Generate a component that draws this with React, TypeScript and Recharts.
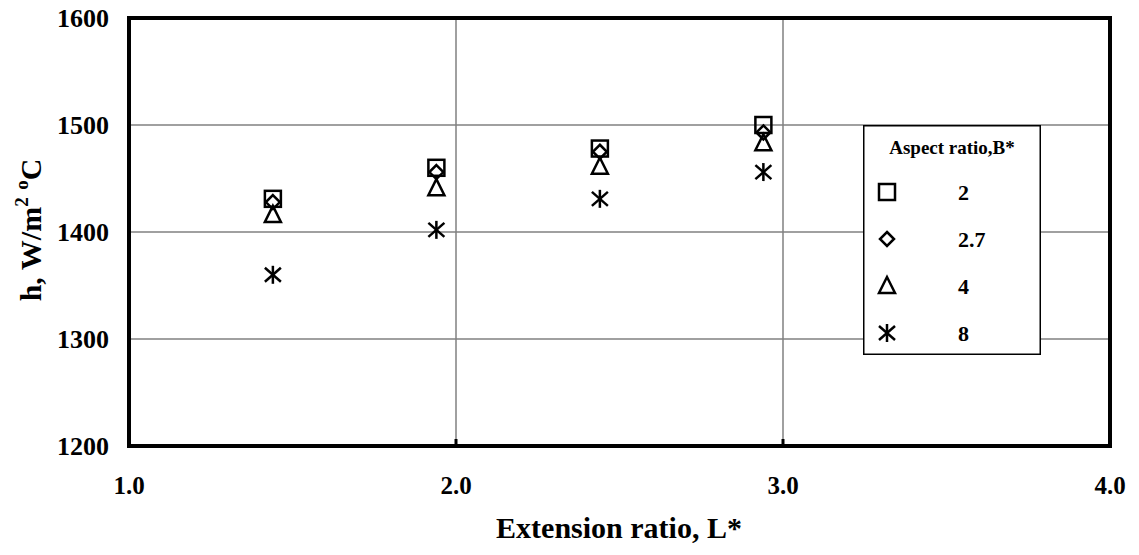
import { ScatterChart, Scatter, XAxis, YAxis, CartesianGrid, ReferenceArea, Legend } from 'recharts'

// extension ratio L* (x) and heat transfer coefficient h for each aspect ratio B*
const extensionRatio = [1.44, 1.94, 2.44, 2.94]
const hB2 = [1431, 1460, 1478, 1500]
const hB27 = [1428, 1456, 1475, 1493]
const hB4 = [1416, 1441, 1461, 1483]
const hB8 = [1360, 1402, 1431, 1456]

const xTicks = [1, 2, 3, 4]
const yTicks = [1200, 1300, 1400, 1500, 1600]

const series = [
  { name: '2', kind: 'square', values: hB2 },
  { name: '2.7', kind: 'diamond', values: hB27 },
  { name: '4', kind: 'triangle', values: hB4 },
  { name: '8', kind: 'star', values: hB8 },
]

const FONT = '"Liberation Serif", "Times New Roman", serif'
const PLOT_BOTTOM = 446

function Marker({ kind, cx, cy }: { kind: string; cx: number; cy: number }) {
  const s = { stroke: '#000', strokeWidth: 2.5, fill: 'none' }
  if (kind === 'square') return <rect x={cx - 8} y={cy - 8} width={16} height={16} {...s} />
  if (kind === 'diamond')
    return <path d={`M${cx},${cy - 7}L${cx + 7},${cy}L${cx},${cy + 7}L${cx - 7},${cy}Z`} {...s} />
  if (kind === 'triangle')
    return <path d={`M${cx},${cy - 9}L${cx + 8},${cy + 7}L${cx - 8},${cy + 7}Z`} {...s} />
  return (
    <g {...s}>
      <line x1={cx} y1={cy - 9} x2={cx} y2={cy + 9} />
      <line x1={cx - 8} y1={cy - 7} x2={cx + 8} y2={cy + 7} />
      <line x1={cx - 8} y1={cy + 7} x2={cx + 8} y2={cy - 7} />
    </g>
  )
}

const XTick = (props: any) => {
  const { x, payload } = props
  const inner = payload.value > 1 && payload.value < 4
  return (
    <g>
      {inner && <line x1={x} x2={x} y1={PLOT_BOTTOM} y2={PLOT_BOTTOM - 7} stroke="#000" strokeWidth={3} />}
      <text x={x} y={494} textAnchor="middle" fontFamily={FONT} fontWeight="bold" fontSize={25} fill="#000">
        {payload.value.toFixed(1)}
      </text>
    </g>
  )
}

const YTick = (props: any) => {
  const { y, payload } = props
  return (
    <text x={109} y={y + 9} textAnchor="end" fontFamily={FONT} fontWeight="bold" fontSize={26} fill="#000">
      {payload.value}
    </text>
  )
}

const LegendBox = (props: any) => {
  const items = props.payload || []
  return (
    <svg width={178} height={230} style={{ display: 'block' }}>
      <rect x={0.75} y={0.75} width={176.5} height={228.5} fill="#fff" stroke="#000" strokeWidth={1.5} />
      <text x={89} y={29} textAnchor="middle" fontFamily={FONT} fontWeight="bold" fontSize={19}>
        Aspect ratio,B*
      </text>
      {items.map((item: any, i: number) => {
        const cy = 67 + i * 47
        const kind = series.find((s) => s.name === item.value)?.kind || 'square'
        return (
          <g key={item.value}>
            <Marker kind={kind} cx={24} cy={cy} />
            <text x={95} y={cy + 8} fontFamily={FONT} fontWeight="bold" fontSize={22}>
              {item.value}
            </text>
          </g>
        )
      })}
    </svg>
  )
}

export default function App() {
  return (
    <div style={{ position: 'absolute', left: 0, top: 0, width: 1139, height: 555, background: '#fff' }}>
      <ScatterChart width={1139} height={555} margin={{ top: 18, right: 29, bottom: 69, left: 69 }}>
        <CartesianGrid stroke="#808080" strokeWidth={1.5} />
        <XAxis
          type="number"
          dataKey="x"
          domain={[1, 4]}
          ticks={xTicks}
          height={40}
          tickLine={false}
          axisLine={false}
          tick={XTick}
          label={{
            content: () => (
              <text x={619} y={538} textAnchor="middle" fontFamily={FONT} fontWeight="bold" fontSize={30}>
                Extension ratio, L*
              </text>
            ),
          }}
        />
        <YAxis
          type="number"
          dataKey="y"
          domain={[1200, 1600]}
          ticks={yTicks}
          width={60}
          tickLine={false}
          axisLine={false}
          tick={YTick}
          label={{
            content: () => (
              <text
                transform="translate(41,230) rotate(-90)"
                textAnchor="middle"
                fontFamily={FONT}
                fontWeight="bold"
                fontSize={30}
              >
                h, W/m
                <tspan fontSize={19} dy={-13}>2</tspan>
                <tspan dy={13}> </tspan>
                <tspan fontSize={19} dy={-13}>o</tspan>
                <tspan dy={13}>C</tspan>
              </text>
            ),
          }}
        />
        <ReferenceArea
          x1={1}
          x2={4}
          y1={1200}
          y2={1600}
          fill="none"
          stroke="#000"
          strokeWidth={4}
          ifOverflow="visible"
        />
        {series.map((s) => (
          <Scatter
            key={s.name}
            name={s.name}
            data={extensionRatio.map((x, i) => ({ x, y: s.values[i] }))}
            isAnimationActive={false}
            shape={(p: any) => <Marker kind={s.kind} cx={p.cx} cy={p.cy} />}
          />
        ))}
        <Legend
          layout="horizontal"
          verticalAlign="middle"
          align="center"
          content={LegendBox}
          wrapperStyle={{ position: 'absolute', left: 863, top: 125, width: 178, height: 230 }}
        />
      </ScatterChart>
    </div>
  )
}
